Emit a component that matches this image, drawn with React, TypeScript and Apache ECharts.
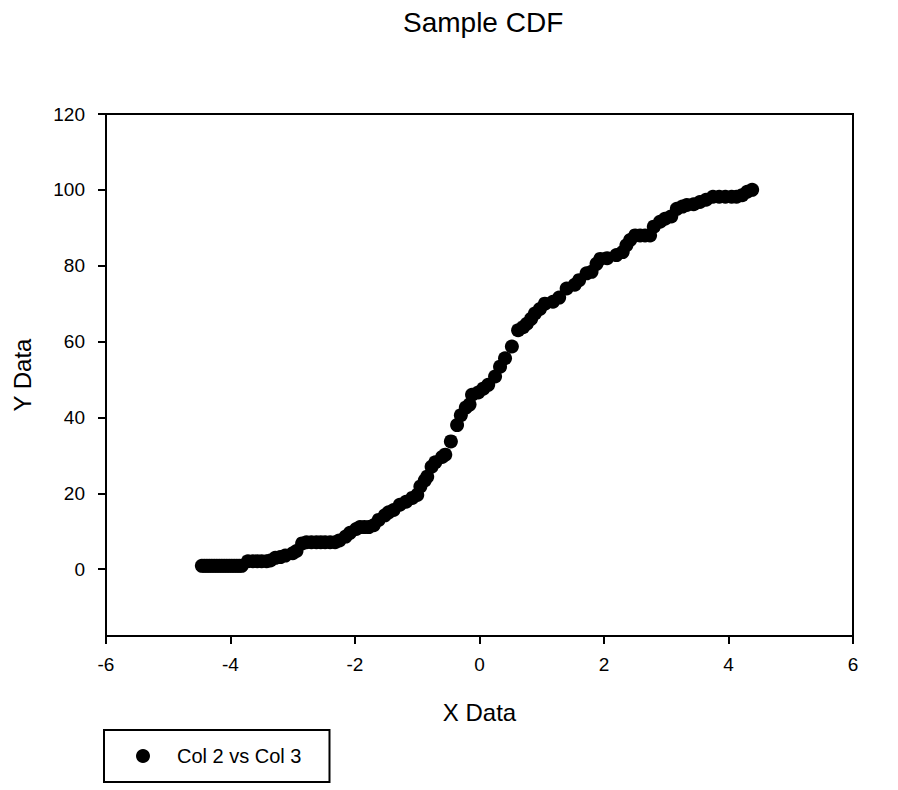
import React, { useEffect, useRef } from "react";
import * as echarts from "echarts";

const FONT = "'Liberation Sans', Arial, sans-serif";

const chartTitle = "Sample CDF";
const seriesName = "Col 2 vs Col 3";
const xTicks = [-6, -4, -2, 0, 2, 4, 6];
const yTicks = [0, 20, 40, 60, 80, 100, 120];

const xValues = [
  -4.46, -4.42, -4.38, -4.34, -4.3, -4.26, -4.22, -4.18, -4.14, -4.1, -4.06, -4.02, -3.98, -3.94, -3.9, -3.86, -3.82,
  -3.72, -3.64, -3.57, -3.5, -3.42, -3.36,
  -3.28, -3.2, -3.12,
  -3.0, -2.94,
  -2.85, -2.78, -2.7, -2.62, -2.55, -2.48, -2.4, -2.32, -2.25,
  -2.15, -2.08,
  -1.98, -1.92, -1.85, -1.78, -1.7,
  -1.62, -1.52, -1.46, -1.38, -1.28, -1.18, -1.08, -1.0,
  -0.95, -0.88, -0.84, -0.77, -0.71, -0.6, -0.55,
  -0.46, -0.36, -0.3, -0.22, -0.16, -0.12, -0.02,
  0.06, 0.14, 0.25, 0.33, 0.41, 0.52, 0.62, 0.7, 0.76, 0.83, 0.89, 0.97, 1.05, 1.18, 1.28,
  1.4, 1.53, 1.6, 1.72, 1.8, 1.88, 1.94, 2.05, 2.2, 2.3,
  2.36, 2.42, 2.5, 2.58, 2.66, 2.74,
  2.8, 2.9, 2.98, 3.08, 3.17, 3.26, 3.33, 3.44, 3.54, 3.64,
  3.75, 3.85, 3.95, 4.05, 4.13, 4.22, 4.3, 4.38,
];

const yValues = [
  0.9, 0.9, 0.9, 0.9, 0.9, 0.9, 0.9, 0.9, 0.9, 0.9, 0.9, 0.9, 0.9, 0.9, 0.9, 0.9, 0.9,
  2.1, 2.1, 2.1, 2.1, 2.1, 2.3,
  3.0, 3.2, 3.6,
  4.2, 4.8,
  6.8, 7.1, 7.1, 7.1, 7.1, 7.1, 7.1, 7.1, 7.6,
  8.6, 9.6,
  10.6, 11.1, 11.1, 11.1, 11.6,
  13.0, 14.2, 15.0, 15.6, 17.0, 17.8, 18.8, 19.6,
  21.8, 23.4, 24.4, 27.0, 28.2, 29.6, 30.2,
  33.7, 38.0, 40.6, 42.6, 43.4, 46.0, 46.6,
  47.6, 48.6, 50.8, 53.4, 55.6, 58.7, 63.0, 63.8, 64.7, 66.0, 67.4, 68.6, 70.0, 70.5, 71.6,
  74.0, 75.0, 76.2, 78.0, 78.4, 80.5, 81.8, 82.0, 82.8, 83.6,
  85.4, 86.8, 88.0, 88.0, 88.0, 88.0,
  90.3, 91.6, 92.4, 93.0, 95.0, 95.6, 96.0, 96.2, 96.8, 97.4,
  98.2, 98.2, 98.2, 98.2, 98.2, 98.6, 99.5, 100.0,
];

const points = xValues.map((x, i) => [x, yValues[i]]);

export default function App() {
  const ref = useRef<HTMLDivElement>(null);
  useEffect(() => {
    if (!ref.current) return;
    const chart = echarts.init(ref.current, null, { renderer: "svg" });
    const axisLine = { show: true, onZero: false, lineStyle: { color: "#000", width: 2 } };
    const axisTickBase = { show: true, inside: false, length: 8, lineStyle: { color: "#000", width: 2 } };
    chart.setOption({
      animation: false,
      backgroundColor: "#fff",
      title: {
        text: chartTitle,
        left: 398,
        top: 3,
        textStyle: { fontFamily: FONT, fontSize: 28, fontWeight: "normal", color: "#000" },
      },
      grid: {
        left: 106,
        right: 45,
        top: 114,
        bottom: 154,
        show: true,
        borderColor: "#000",
        borderWidth: 2,
        backgroundColor: "transparent",
      },
      legend: {
        show: true,
        left: 104,
        top: 730,
        orient: "horizontal",
        data: [seriesName],
        icon: "circle",
        itemWidth: 14,
        itemHeight: 14,
        borderColor: "#000",
        borderWidth: 2,
        borderRadius: 0,
        padding: [16, 28, 16, 32],
        textStyle: { fontFamily: FONT, fontSize: 20, color: "#000", padding: [0, 0, 0, 22] },
      },
      xAxis: {
        type: "value",
        min: -6,
        max: 6,
        interval: 2,
        name: "X Data",
        nameLocation: "middle",
        nameGap: 64,
        nameTextStyle: { fontFamily: FONT, fontSize: 24, color: "#000" },
        axisLine,
        axisTick: { ...axisTickBase, customValues: xTicks },
        axisLabel: { fontFamily: FONT, fontSize: 19, color: "#000", margin: 19, customValues: xTicks },
        splitLine: { show: false },
      },
      yAxis: {
        type: "value",
        min: -17.6,
        max: 120,
        name: "Y Data",
        nameLocation: "middle",
        nameGap: 72,
        nameTextStyle: { fontFamily: FONT, fontSize: 24, color: "#000" },
        axisLine,
        axisTick: { ...axisTickBase, customValues: yTicks },
        axisLabel: { fontFamily: FONT, fontSize: 19, color: "#000", margin: 21, customValues: yTicks },
        splitLine: { show: false },
      },
      series: [
        {
          name: seriesName,
          type: "scatter",
          data: points,
          symbol: "circle",
          symbolSize: 14,
          itemStyle: { color: "#000", opacity: 1 },
          emphasis: { disabled: true },
        },
      ],
    });
    return () => chart.dispose();
  }, []);
  return (
    <div
      ref={ref}
      style={{ position: "fixed", left: 0, top: 0, width: 898, height: 790, background: "#fff" }}
    />
  );
}
